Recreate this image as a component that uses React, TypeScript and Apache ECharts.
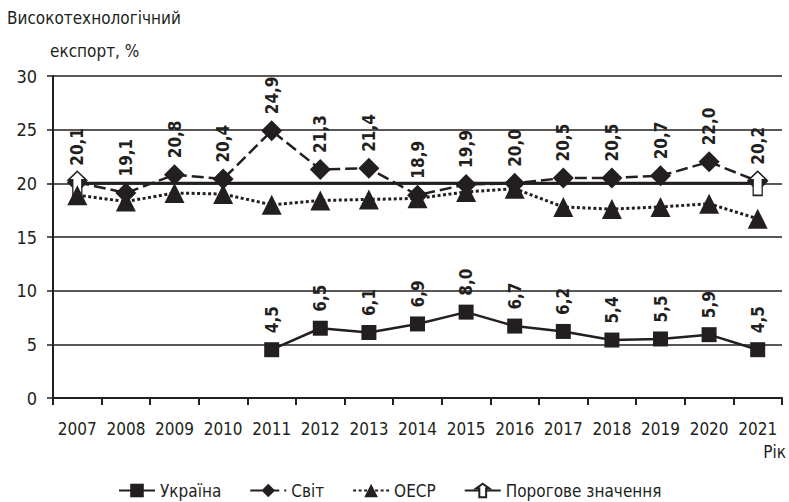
import React, { useEffect, useRef } from "react";
import * as echarts from "echarts";

const years = ["2007", "2008", "2009", "2010", "2011", "2012", "2013", "2014", "2015", "2016", "2017", "2018", "2019", "2020", "2021"];
const ukraine = [null, null, null, null, 4.5, 6.5, 6.1, 6.9, 8.0, 6.7, 6.2, 5.4, 5.5, 5.9, 4.5];
const world = [20.1, 19.1, 20.8, 20.4, 24.9, 21.3, 21.4, 18.9, 19.9, 20.0, 20.5, 20.5, 20.7, 22.0, 20.2];
const oecd = [18.9, 18.3, 19.1, 19.0, 18.0, 18.4, 18.5, 18.6, 19.2, 19.5, 17.8, 17.6, 17.8, 18.1, 16.7];
const threshold = [20, 20, 20, 20, 20, 20, 20, 20, 20, 20, 20, 20, 20, 20, 20];

const FONT = "'Liberation Sans Narrow', 'DejaVu Sans Condensed', 'Arial Narrow', sans-serif";
const INK = "#231f20";
const ARROW = "path://M10,0 L20,9 L15,9 L15,25 L5,25 L5,9 L0,9 Z";

const fmt = (p: any) => (p.value == null ? "" : Number(p.value).toFixed(1).replace(".", ","));

export default function App() {
  const ref = useRef<HTMLDivElement>(null);
  useEffect(() => {
    document.body.style.margin = "0";
    const chart = echarts.init(ref.current!, null, { renderer: "svg" });
    const label = (dist: number) => ({
      show: true,
      position: "top",
      rotate: 90,
      align: "left",
      verticalAlign: "middle",
      distance: dist,
      formatter: fmt,
      color: INK,
      fontFamily: FONT,
      fontWeight: "bold",
      fontSize: 17,
    });
    chart.setOption({
      animation: false,
      backgroundColor: "#fff",
      grid: { left: 53, right: 7, top: 76, bottom: 104, containLabel: false, outerBoundsMode: "none" },
      legend: {
        left: 113,
        top: 477,
        itemWidth: 36,
        itemHeight: 17,
        itemGap: 28,
        data: ["Україна", "Світ", "ОЕСР", "Порогове значення"],
        textStyle: { fontFamily: FONT, fontSize: 17, color: INK },
      },
      xAxis: {
        type: "category",
        data: years,
        boundaryGap: true,
        axisLine: { lineStyle: { color: INK, width: 2 } },
        axisTick: { show: true, length: 7, interval: 0, lineStyle: { color: INK, width: 2 } },
        axisLabel: { interval: 0, margin: 22, fontFamily: FONT, fontSize: 17, color: INK },
        splitLine: { show: false },
      },
      yAxis: {
        type: "value",
        min: 0,
        max: 30,
        interval: 5,
        axisLine: { show: true, lineStyle: { color: INK, width: 2 } },
        axisTick: { show: true, length: 6, lineStyle: { color: INK, width: 1.5 } },
        axisLabel: { margin: 16, fontFamily: FONT, fontSize: 18, color: INK },
        splitLine: { show: true, lineStyle: { color: INK, width: 1.5 } },
      },
      graphic: [
        { type: "text", left: 7, top: 9, style: { text: "Високотехнологічний", font: `17px ${FONT}`, fill: INK } },
        { type: "text", left: 50, top: 42, style: { text: "експорт, %", font: `17px ${FONT}`, fill: INK } },
        { type: "text", right: 3, top: 443, style: { text: "Рік", font: `17px ${FONT}`, fill: INK } },
      ],
      series: [
        {
          name: "Україна",
          type: "line",
          data: ukraine,
          symbol: "rect",
          symbolSize: 15,
          itemStyle: { color: INK },
          lineStyle: { color: INK, width: 2.5 },
          label: label(9),
        },
        {
          name: "Світ",
          type: "line",
          data: world,
          symbol: "diamond",
          symbolSize: 21,
          itemStyle: { color: INK },
          lineStyle: { color: INK, width: 2.5, type: [12, 5] },
          label: label(6),
        },
        {
          name: "Порогове значення",
          type: "line",
          data: threshold.map((v, i) =>
            i === 0 || i === threshold.length - 1 ? { value: v } : { value: v, symbol: "none" }
          ),
          symbol: ARROW,
          symbolSize: [18, 24],
          itemStyle: { color: "#fff", borderColor: INK, borderWidth: 1.5 },
          lineStyle: { color: INK, width: 3 },
        },
        {
          name: "ОЕСР",
          type: "line",
          data: oecd,
          symbol: "triangle",
          symbolSize: 20,
          itemStyle: { color: INK },
          lineStyle: { color: INK, width: 3, type: [3, 2.5] },
        },
      ],
    });
    return () => chart.dispose();
  }, []);
  return <div ref={ref} style={{ width: 789, height: 502, position: "absolute", left: 0, top: 0 }} />;
}
